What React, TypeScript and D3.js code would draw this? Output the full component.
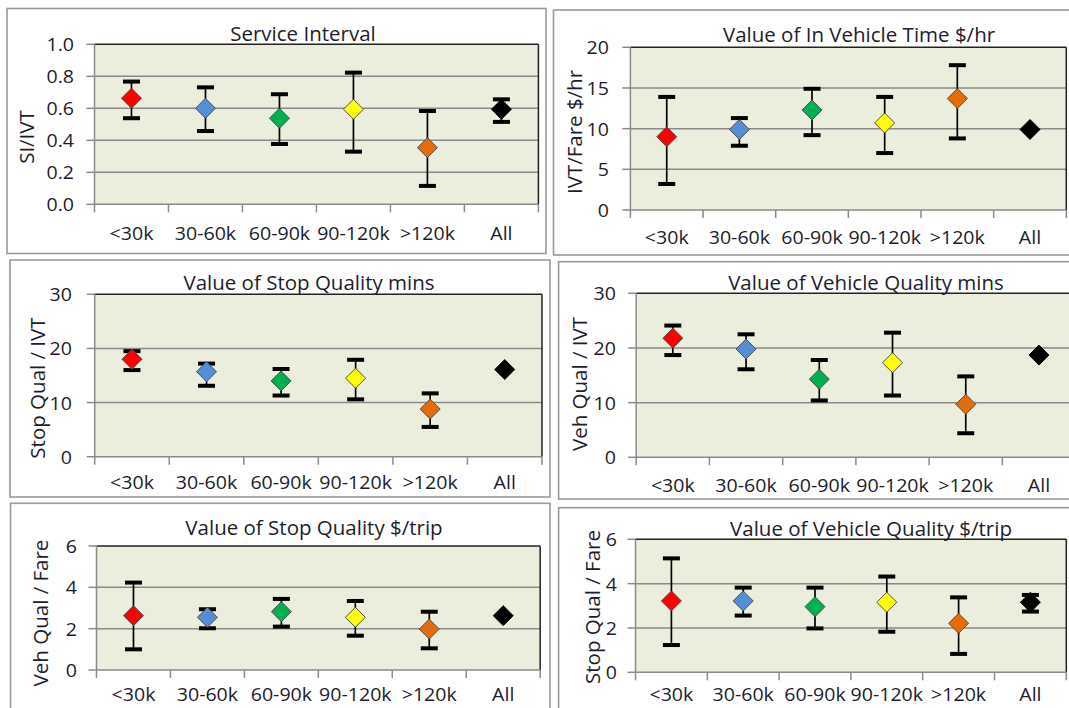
import React from "react";
import * as d3 from "d3";

// ---------- data ----------
const categories = ["<30k", "30-60k", "60-90k", "90-120k", ">120k", "All"];
const pointColors = ["#FF0000", "#558ED5", "#00B050", "#FFFF00", "#E46C0A", "#000000"];

// Service Interval (SI/IVT)
const siMean = [0.663, 0.6, 0.538, 0.594, 0.354, 0.594];
const siHigh = [0.767, 0.731, 0.688, 0.823, 0.583, 0.656];
const siLow = [0.538, 0.458, 0.377, 0.329, 0.115, 0.515];
const siTicks = [0, 0.2, 0.4, 0.6, 0.8, 1.0];

// Value of In Vehicle Time $/hr
const ivtMean = [9.0, 9.9, 12.3, 10.7, 13.7, 9.9];
const ivtHigh = [13.9, 11.3, 14.9, 13.9, 17.8, null];
const ivtLow = [3.2, 7.9, 9.2, 7.0, 8.8, null];
const ivtTicks = [0, 5, 10, 15, 20];

// Value of Stop Quality mins
const sqMinMean = [18.0, 15.7, 14.0, 14.5, 8.8, 16.1];
const sqMinHigh = [19.5, 17.2, 16.2, 17.9, 11.7, null];
const sqMinLow = [16.0, 13.1, 11.3, 10.6, 5.5, null];
const minTicks = [0, 10, 20, 30];

// Value of Vehicle Quality mins
const vqMinMean = [21.8, 19.8, 14.3, 17.3, 9.7, 18.7];
const vqMinHigh = [24.1, 22.5, 17.8, 22.8, 14.8, null];
const vqMinLow = [18.7, 16.1, 10.4, 11.3, 4.4, null];

// Value of Stop Quality $/trip
const sqTripMean = [2.63, 2.55, 2.82, 2.55, 1.98, 2.63];
const sqTripHigh = [4.23, 2.94, 3.44, 3.34, 2.82, null];
const sqTripLow = [1.0, 2.02, 2.1, 1.66, 1.05, null];
const tripTicks = [0, 2, 4, 6];

// Value of Vehicle Quality $/trip
const vqTripMean = [3.22, 3.22, 2.96, 3.16, 2.21, 3.16];
const vqTripHigh = [5.14, 3.82, 3.82, 4.32, 3.38, 3.49];
const vqTripLow = [1.23, 2.56, 1.98, 1.83, 0.83, 2.74];

// ---------- layout ----------
const panels = [
  {
    title: "Service Interval", yLabel: "SI/IVT",
    mean: siMean, high: siHigh, low: siLow, ticks: siTicks, fmt: d3.format(".1f"),
    frame: [7, 8.5, 546, 253.5], plot: [94.5, 44.3, 538.4, 204.3],
    titlePos: [303, 41], yLabelPos: [26, 137], tickRight: 74, xLabelY: 240,
  },
  {
    title: "Value of In Vehicle Time $/hr", yLabel: "IVT/Fare $/hr",
    mean: ivtMean, high: ivtHigh, low: ivtLow, ticks: ivtTicks, fmt: d3.format("d"),
    frame: [553.5, 10, 1080, 255], plot: [630.4, 47.3, 1066.3, 210],
    titlePos: [859, 42], yLabelPos: [574, 132], tickRight: 609, xLabelY: 244,
  },
  {
    title: "Value of Stop Quality mins", yLabel: "Stop Qual / IVT",
    mean: sqMinMean, high: sqMinHigh, low: sqMinLow, ticks: minTicks, fmt: d3.format("d"),
    frame: [10, 260, 550, 497], plot: [94.7, 294.3, 542, 456.7],
    titlePos: [309, 290], yLabelPos: [37, 388], tickRight: 72, xLabelY: 489,
  },
  {
    title: "Value of Vehicle Quality mins", yLabel: "Veh Qual / IVT",
    mean: vqMinMean, high: vqMinHigh, low: vqMinLow, ticks: minTicks, fmt: d3.format("d"),
    frame: [558.6, 261.7, 1090, 499], plot: [636.2, 293.3, 1075.6, 457.3],
    titlePos: [866, 290], yLabelPos: [579, 384], tickRight: 616, xLabelY: 492,
  },
  {
    title: "Value of Stop Quality $/trip", yLabel: "Veh Qual / Fare",
    mean: sqTripMean, high: sqTripHigh, low: sqTripLow, ticks: tripTicks, fmt: d3.format("d"),
    frame: [10.5, 503.3, 550, 730], plot: [96.5, 546, 540.2, 670],
    titlePos: [314, 535], yLabelPos: [40, 613], tickRight: 77, xLabelY: 701,
  },
  {
    title: "Value of Vehicle Quality $/trip", yLabel: "Stop Qual / Fare",
    mean: vqTripMean, high: vqTripHigh, low: vqTripLow, ticks: tripTicks, fmt: d3.format("d"),
    frame: [558.6, 507.7, 1090, 730], plot: [635.5, 539.3, 1066.3, 672.3],
    titlePos: [871, 536], yLabelPos: [592, 607], tickRight: 617, xLabelY: 701,
  },
];

const FONT = "'Open Sans', 'DejaVu Sans', sans-serif";
const TEXT = "#1d1d2b";
const GRID = "#8a8a8a";
const BG = "#EBEEDD";

const diamond = d3.symbol(d3.symbolSquare, 200)();

function Panel({ p }: { p: any }) {
  const [l, t, r, b] = p.plot;
  const x = d3.scaleBand<string>().domain(categories).range([l, r]).paddingInner(0).paddingOuter(0);
  const y = d3.scaleLinear().domain([p.ticks[0], p.ticks[p.ticks.length - 1]]).range([b, t]);
  const bw = x.bandwidth();
  const [fx0, fy0, fx1, fy1] = p.frame;
  const boundaries = categories.map((c) => x(c) as number).concat([r]);
  return (
    <g>
      <rect x={fx0} y={fy0} width={fx1 - fx0} height={fy1 - fy0} fill="#fff" stroke="#9a9a9a" strokeWidth={1.6} />
      <rect x={l} y={t} width={r - l} height={b - t} fill={BG} />
      {p.ticks.slice(1, -1).map((v: number) => (
        <line key={"g" + v} x1={l} x2={r} y1={y(v)} y2={y(v)} stroke={GRID} strokeWidth={1.5} />
      ))}
      <line x1={l} x2={r} y1={t} y2={t} stroke="#222" strokeWidth={1.5} />
      <line x1={r} x2={r} y1={t} y2={b} stroke="#222" strokeWidth={1.5} />
      <line x1={l} x2={l} y1={t} y2={b} stroke={GRID} strokeWidth={1.5} />
      <line x1={l} x2={r} y1={b} y2={b} stroke={GRID} strokeWidth={1.5} />
      {p.ticks.map((v: number) => (
        <g key={"t" + v}>
          <line x1={l - 8} x2={l} y1={y(v)} y2={y(v)} stroke={GRID} strokeWidth={1.5} />
          <text
            transform={`translate(${p.tickRight},${y(v)}) scale(1.12,1)`}
            textAnchor="end" dominantBaseline="central"
            fontFamily={FONT} fontSize={17.5} fill={TEXT}
          >
            {p.fmt(v)}
          </text>
        </g>
      ))}
      {boundaries.map((bx: number, i: number) => (
        <line key={"xt" + i} x1={bx} x2={bx} y1={b} y2={b + 8} stroke={GRID} strokeWidth={1.5} />
      ))}
      {categories.map((c) => (
        <text
          key={"xl" + c}
          transform={`translate(${(x(c) as number) + bw / 2},${p.xLabelY}) scale(1.12,1)`}
          textAnchor="middle" fontFamily={FONT} fontSize={17.5} fill={TEXT}
        >
          {c}
        </text>
      ))}
      <text x={p.titlePos[0]} y={p.titlePos[1]} textAnchor="middle" fontFamily={FONT} fontSize={20.5} fill={TEXT}>
        {p.title}
      </text>
      <text
        transform={`translate(${p.yLabelPos[0]},${p.yLabelPos[1]}) rotate(-90)`}
        textAnchor="middle" dominantBaseline="central"
        fontFamily={FONT} fontSize={20.5} fill={TEXT}
      >
        {p.yLabel}
      </text>
      {categories.map((c, i) => {
        const cx = (x(c) as number) + bw / 2;
        const hi = p.high[i];
        const lo = p.low[i];
        return (
          <g key={"pt" + c}>
            {hi != null && lo != null && (
              <g>
                <line x1={cx} x2={cx} y1={y(hi)} y2={y(lo)} stroke="#000" strokeWidth={1.7} />
                <rect x={cx - 8.5} y={y(hi) - 2} width={17} height={4} fill="#000" />
                <rect x={cx - 8.5} y={y(lo) - 2} width={17} height={4} fill="#000" />
              </g>
            )}
            <path
              d={diamond as string}
              transform={`translate(${cx},${y(p.mean[i])}) rotate(45)`}
              fill={pointColors[i]}
              stroke={i === 5 ? "#000" : "#4a4a4a"}
              strokeWidth={0.9}
            />
          </g>
        );
      })}
    </g>
  );
}

export default function App() {
  return (
    <svg
      width={1069}
      height={708}
      style={{ position: "absolute", left: 0, top: 0, background: "#fff" }}
    >
      <rect x={0} y={0} width={1069} height={708} fill="#fff" />
      {panels.map((p, i) => (
        <Panel key={i} p={p} />
      ))}
    </svg>
  );
}
